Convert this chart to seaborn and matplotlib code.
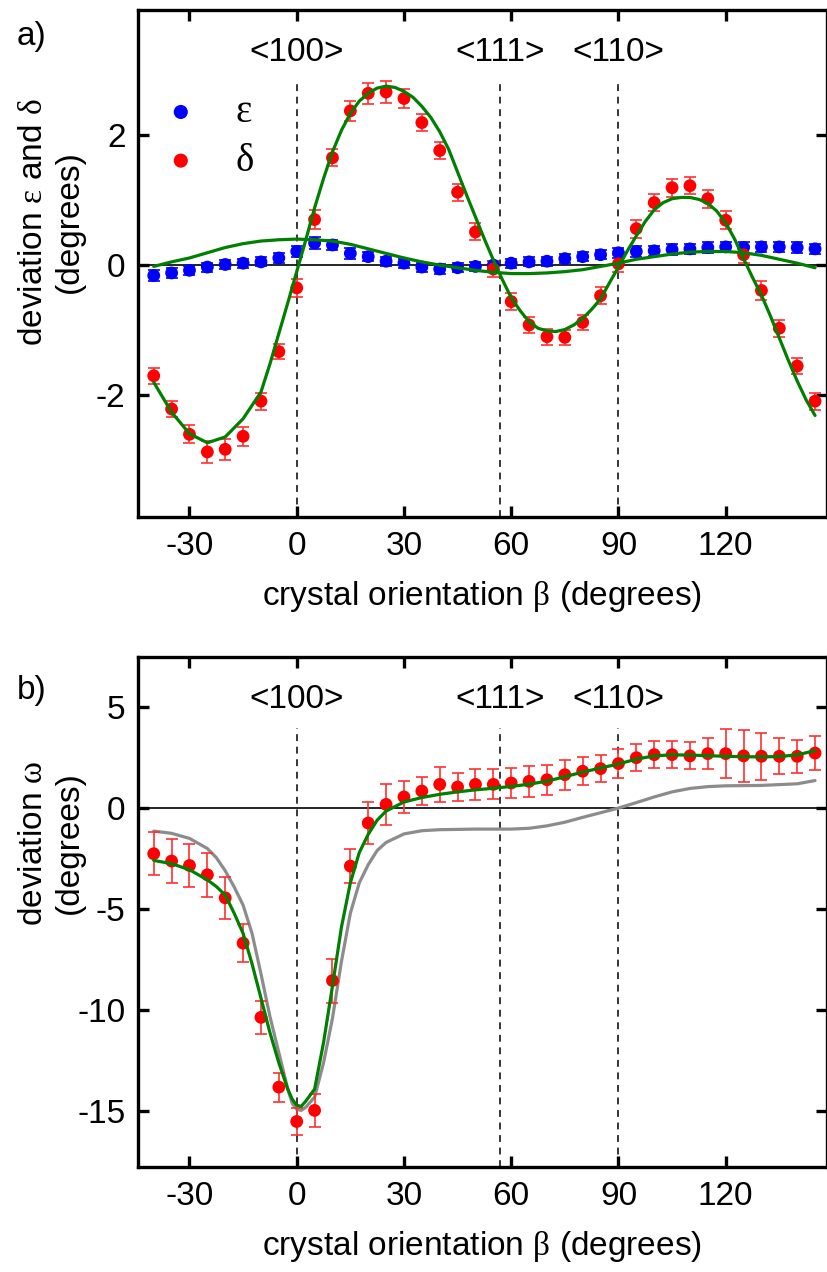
import matplotlib
matplotlib.use('Agg')
import numpy as np
import pandas as pd
import seaborn as sns
from matplotlib import pyplot as plt

sns.set_style('ticks')
plt.rcParams['font.family'] = ['Liberation Sans', 'DejaVu Sans']
plt.rcParams['mathtext.fontset'] = 'custom'
plt.rcParams['mathtext.rm'] = 'Liberation Serif'
plt.rcParams['axes.unicode_minus'] = False
plt.rcParams['axes.edgecolor'] = 'black'
plt.rcParams['xtick.color'] = 'black'
plt.rcParams['ytick.color'] = 'black'
plt.rcParams['text.color'] = 'black'
plt.rcParams['axes.labelcolor'] = 'black'

# measured points, one every 5 degrees
beta = [-40, -35, -30, -25, -20, -15, -10, -5, 0,
        5, 10, 15, 20, 25, 30, 35, 40, 45, 50,
        55, 60, 65, 70, 75, 80, 85, 90, 95, 100,
        105, 110, 115, 120, 125, 130, 135, 140, 145]

eps = [-0.16, -0.12, -0.08, -0.03, 0.01, 0.03, 0.05, 0.11, 0.21,
       0.34, 0.31, 0.18, 0.13, 0.06, 0.03, -0.03, -0.06, -0.04, -0.02,
       0.00, 0.03, 0.05, 0.06, 0.10, 0.13, 0.16, 0.19, 0.21, 0.22,
       0.24, 0.25, 0.27, 0.28, 0.27, 0.28, 0.28, 0.27, 0.25]
eps_err = [0.08, 0.08, 0.07, 0.07, 0.07, 0.07, 0.07, 0.08, 0.08,
           0.09, 0.08, 0.08, 0.07, 0.07, 0.07, 0.07, 0.07, 0.07, 0.07,
           0.07, 0.07, 0.07, 0.07, 0.07, 0.07, 0.07, 0.08, 0.08, 0.08,
           0.08, 0.08, 0.08, 0.08, 0.08, 0.08, 0.08, 0.08, 0.08]

delta = [-1.70, -2.21, -2.60, -2.87, -2.83, -2.63, -2.09, -1.33, -0.35,
         0.70, 1.65, 2.37, 2.64, 2.66, 2.56, 2.19, 1.76, 1.12, 0.51,
         -0.06, -0.56, -0.92, -1.10, -1.11, -0.88, -0.47, 0.02, 0.56, 0.96,
         1.19, 1.22, 1.02, 0.69, 0.16, -0.39, -0.97, -1.55, -2.09]
delta_err = [0.12, 0.13, 0.14, 0.17, 0.16, 0.15, 0.13, 0.12, 0.14,
             0.14, 0.13, 0.15, 0.16, 0.17, 0.15, 0.13, 0.13, 0.13, 0.13,
             0.13, 0.13, 0.13, 0.12, 0.12, 0.12, 0.13, 0.13, 0.14, 0.13,
             0.14, 0.13, 0.14, 0.14, 0.13, 0.14, 0.13, 0.13, 0.13]

omega = [-2.26, -2.62, -2.84, -3.30, -4.44, -6.68, -10.35, -13.8, -15.5,
         -14.95, -8.53, -2.87, -0.74, 0.18, 0.55, 0.84, 1.17, 1.04, 1.17,
         1.17, 1.24, 1.32, 1.40, 1.65, 1.82, 1.95, 2.20, 2.49, 2.64,
         2.64, 2.58, 2.69, 2.69, 2.58, 2.56, 2.56, 2.56, 2.72]
omega_err = [1.06, 1.07, 1.06, 1.09, 1.03, 0.95, 0.83, 0.72, 0.68,
             0.82, 1.09, 0.85, 1.03, 1.02, 0.78, 0.70, 0.85, 0.68, 0.77,
             0.74, 0.75, 0.76, 0.73, 0.74, 0.70, 0.67, 0.73, 0.66, 0.66,
             0.66, 0.67, 0.78, 1.20, 1.28, 1.15, 0.90, 0.82, 0.82]

# fitted curves
eps_fit_beta = [-40, -35, -30, -25, -20, -15, -10, -5, 0,
                5, 10, 15, 20, 25, 30, 35, 40, 45, 50,
                55, 60, 65, 70, 75, 80, 85, 90, 95, 100,
                105, 110, 115, 120, 125, 130, 135, 140, 145]
eps_fit = [-0.02, 0.05, 0.11, 0.19, 0.27, 0.33, 0.37, 0.39, 0.40,
           0.39, 0.37, 0.32, 0.25, 0.18, 0.11, 0.05, 0.00, -0.04, -0.08,
           -0.11, -0.13, -0.13, -0.12, -0.10, -0.07, -0.02, 0.03, 0.09, 0.13,
           0.17, 0.20, 0.21, 0.21, 0.19, 0.15, 0.09, 0.03, -0.04]

delta_fit_beta = [-40, -35, -30, -25, -20, -15, -10, -7.5, -5, -2.5,
                  0, 2.5, 5, 7.5, 10, 12.5, 15, 17.5, 20, 22.5,
                  25, 27.5, 30, 32.5, 35, 37.5, 40, 42.5, 45, 47.5,
                  50, 52.5, 55, 57.5, 60, 62.5, 65, 67.5, 70, 72.5,
                  75, 77.5, 80, 82.5, 85, 87.5, 90, 92.5, 95, 97.5,
                  100, 102.5, 105, 107.5, 110, 112.5, 115, 117.5, 120, 122.5,
                  125, 127.5, 130, 132.5, 135, 137.5, 140, 142.5, 145]
delta_fit = [-1.80, -2.26, -2.59, -2.73, -2.64, -2.36, -1.95, -1.52, -1.05, -0.58,
             -0.10, 0.38, 0.88, 1.33, 1.74, 2.07, 2.33, 2.52, 2.64, 2.72,
             2.75, 2.73, 2.67, 2.58, 2.44, 2.27, 2.05, 1.78, 1.43, 1.08,
             0.74, 0.40, 0.08, -0.22, -0.50, -0.70, -0.87, -0.97, -1.01, -1.02,
             -0.99, -0.92, -0.82, -0.68, -0.52, -0.27, -0.03, 0.22, 0.45, 0.67,
             0.85, 0.96, 1.02, 1.04, 1.04, 1.01, 0.95, 0.83, 0.65, 0.40,
             0.10, -0.19, -0.46, -0.78, -1.12, -1.46, -1.78, -2.07, -2.31]

omega_fit_beta = [-40, -35, -30, -25, -22.5, -20, -17.5, -15, -12.5, -10, -7.5,
                  -5, -2.5, -1.25, 0, 1.25, 2.5, 5, 7.5, 10, 12.5, 15, 17.5,
                  20, 22.5, 25, 30, 35, 40, 45, 50, 55, 60,
                  65, 70, 75, 80, 85, 90, 95, 100, 105, 110,
                  115, 120, 125, 130, 135, 140, 145]
omega_fit = [-2.59, -2.75, -3.05, -3.55, -3.88, -4.30, -5.20, -6.20, -7.70, -9.40, -11.1,
             -12.6, -13.9, -14.4, -14.7, -14.75, -14.5, -13.9, -11.6, -8.80, -5.90, -3.70, -2.20,
             -1.30, -0.60, -0.15, 0.30, 0.52, 0.68, 0.80, 0.90, 0.98, 1.07,
             1.18, 1.33, 1.55, 1.78, 1.98, 2.18, 2.42, 2.58, 2.63, 2.62,
             2.59, 2.56, 2.54, 2.53, 2.55, 2.63, 2.84]

omega_model_beta = [-40, -35, -30, -25, -22.5, -20, -17.5, -15, -12.5, -10, -7.5,
                    -5, -2.5, -1.25, 0, 1.25, 2.5, 5, 7.5, 10, 12.5, 15, 17.5,
                    20, 22.5, 25, 30, 35, 40, 50, 60, 65, 70,
                    75, 80, 85, 90, 95, 100, 105, 110, 115, 120,
                    130, 140, 145]
omega_model = [-1.14, -1.25, -1.50, -2.00, -2.45, -3.10, -3.90, -4.80, -6.20, -8.20, -10.3,
               -12.1, -13.9, -14.6, -14.9, -14.95, -14.8, -14.3, -12.6, -10.4, -7.60, -5.20, -3.70,
               -2.80, -2.10, -1.70, -1.28, -1.12, -1.07, -1.04, -1.04, -1.00, -0.88,
               -0.70, -0.46, -0.23, 0.00, 0.27, 0.55, 0.80, 0.97, 1.06, 1.10,
               1.12, 1.20, 1.36]

orient_beta = [0, 57, 90]
orient_labels = ['<100>', '<111>', '<110>']

W, H = 827, 1272
fig = plt.figure(figsize=(W / 100, H / 100), dpi=100)
ax_a = fig.add_axes([138 / W, 1 - 517 / H, 688.5 / W, 507 / H])
ax_b = fig.add_axes([138 / W, 1 - 1167 / H, 688.5 / W, 510 / H])

RED = '#ff0000'
RED_BAR = '#ff3030'
BLUE = '#0000ff'
GREEN = '#008000'
GRAY = '#8c8c8c'

# ---- a) epsilon and delta ----
ax = ax_a
ax.axhline(0, color='black', lw=1.2, zorder=1)
ax.vlines(orient_beta, -3.87, 2.8, colors='black', lw=1.1,
          linestyles=(0, (4.5, 3.7)), zorder=1)
ax.errorbar(beta, eps, yerr=eps_err, fmt='none', ecolor=BLUE, elinewidth=1.2,
            capsize=4.5, capthick=1.2, zorder=2)
ax.errorbar(beta, delta, yerr=delta_err, fmt='none', ecolor=RED_BAR, elinewidth=1.2,
            capsize=4.5, capthick=1.2, zorder=2)
sns.scatterplot(x=beta, y=eps, color=BLUE, s=85, edgecolor='none', ax=ax,
                label=r'$\mathrm{\varepsilon}$', zorder=3)
sns.scatterplot(x=beta, y=delta, color=RED, s=85, edgecolor='none', ax=ax,
                label=r'$\mathrm{\delta}$', zorder=3)
sns.lineplot(x=eps_fit_beta, y=eps_fit, color=GREEN, lw=2.3, sort=False,
             estimator=None, ax=ax, zorder=4)
sns.lineplot(x=delta_fit_beta, y=delta_fit, color=GREEN, lw=2.3, sort=False,
             estimator=None, ax=ax, zorder=4)
for b, lab in zip(orient_beta, orient_labels):
    ax.text(b, 3.27, lab, ha='center', va='center', fontsize=24)
ax.set_ylim(-3.87, 3.92)
ax.set_yticks([-2, 0, 2])
ax.legend(loc='upper left', bbox_to_anchor=(0.0, 0.88), frameon=False,
          handlelength=1.0, handletextpad=0.9, labelspacing=0.3,
          borderaxespad=0.2, markerscale=1.1,
          prop={'family': 'Liberation Serif', 'size': 28})

# ---- b) omega ----
ax = ax_b
ax.axhline(0, color='black', lw=1.2, zorder=1)
ax.vlines(orient_beta, -17.75, 3.95, colors='black', lw=1.1,
          linestyles=(0, (4.5, 3.7)), zorder=1)
sns.lineplot(x=omega_model_beta, y=omega_model, color=GRAY, lw=2.3, sort=False,
             estimator=None, ax=ax, zorder=2)
ax.errorbar(beta, omega, yerr=omega_err, fmt='none', ecolor=RED_BAR, elinewidth=1.2,
            capsize=4.5, capthick=1.2, zorder=3)
sns.scatterplot(x=beta, y=omega, color=RED, s=85, edgecolor='none', ax=ax, zorder=3)
sns.lineplot(x=omega_fit_beta, y=omega_fit, color=GREEN, lw=2.3, sort=False,
             estimator=None, ax=ax, zorder=4)
for b, lab in zip(orient_beta, orient_labels):
    ax.text(b, 5.38, lab, ha='center', va='center', fontsize=24)
ax.set_ylim(-17.75, 7.47)
ax.set_yticks([-15, -10, -5, 0, 5])

for ax in (ax_a, ax_b):
    ax.set_xlim(-44.4, 148.2)
    ax.set_xticks([-30, 0, 30, 60, 90, 120])
    ax.tick_params(direction='in', length=8, width=2.4, top=True, right=True,
                   labelsize=24, color='black')
    ax.tick_params(axis='x', pad=10)
    ax.tick_params(axis='y', pad=9)
    for sp in ax.spines.values():
        sp.set_linewidth(2.4)
        sp.set_color('black')
        sp.set_visible(True)
    ax.set_xlabel(r'crystal orientation $\mathrm{\beta}$ (degrees)', fontsize=24,
                  labelpad=12)
    ax.set_ylabel('')

fig.text(51 / W, 1 - 222 / H,
         'deviation $\\mathrm{\\varepsilon}$ and $\\mathrm{\\delta}$\n(degrees)',
         rotation=90, ha='center', va='center', fontsize=24, multialignment='center')
fig.text(51 / W, 1 - 843 / H, 'deviation $\\mathrm{\\omega}$\n(degrees)',
         rotation=90, ha='center', va='center', fontsize=24, multialignment='center')
fig.text(32 / W, 1 - 37 / H, 'a)', ha='center', va='center', fontsize=24)
fig.text(32 / W, 1 - 690 / H, 'b)', ha='center', va='center', fontsize=24)

fig.savefig('out.png', dpi=100)
